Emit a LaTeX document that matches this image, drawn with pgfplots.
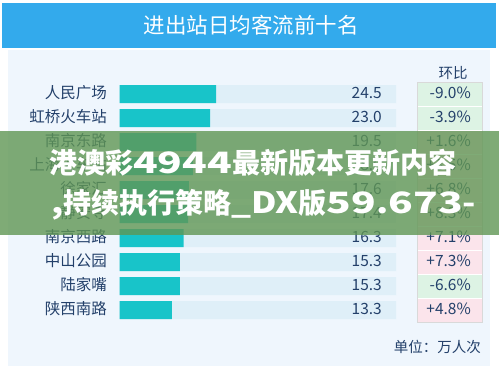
\documentclass[border=0pt]{standalone}
\usepackage{pgfplots}
\pgfplotsset{compat=1.18}
\usepackage{fontspec}
\setmainfont{Noto Sans CJK SC}
\usepackage{graphicx}
\definecolor{titleblue}{RGB}{51,170,236}
\definecolor{panel}{RGB}{239,246,253}
\definecolor{barteal}{RGB}{24,196,201}
\definecolor{bgbar}{RGB}{223,239,248}
\definecolor{navy}{RGB}{35,64,106}
\definecolor{negc}{RGB}{221,243,228}
\definecolor{posc}{RGB}{251,228,235}
\definecolor{overlayc}{RGB}{96,150,84}
\newcommand\D[1]{\scalebox{1.45}[1.05]{#1}}
\newcommand\E[1]{\scalebox{1.25}[1.05]{#1}}
\begin{document}
\begin{tikzpicture}[x=1bp,y=1bp,
  lab/.style={navy, font=\fontsize{15.5bp}{17bp}\selectfont, inner sep=0pt, anchor=east, text height=11.5bp, text depth=3bp}]
\fill[white] (0,0) rectangle (499,369);
\fill[titleblue] (2,321) rectangle (496,366);
\node[white, font=\fontsize{21.5bp}{24bp}\selectfont] at (251,344) {进出站日均客流前十名};
\fill[panel] (8,3) rectangle (490,319);
\node[navy, font=\fontsize{14.5bp}{16bp}\selectfont] at (453,296) {环比};
% change cells
\fill[negc] (417,287) rectangle (482,239);
\fill[posc] (417,239) rectangle (482,143);
\fill[posc] (417,143) rectangle (482,95);
\fill[negc] (417,95) rectangle (482,71);
\fill[posc] (417,71) rectangle (482,47);
\draw[white, line width=0.6bp] \foreach \yy in {263,239,215,191,167,143,119,95,71} {(417,\yy) -- (482,\yy)};
\draw[black!15, line width=0.6bp] (417,287) rectangle (482,47);
\begin{axis}[at={(119.5bp,47bp)}, anchor=south west, scale only axis,
  width=276.5bp, height=240bp, xmin=0, xmax=70.18, ymin=0.5, ymax=10.5,
  y dir=reverse, hide axis, clip=false]
\addplot[xbar, bar width=18bp, bar shift=0pt, fill=bgbar, draw=none]
  coordinates {(70.18,1) (70.18,2) (70.18,3) (70.18,4) (70.18,5) (70.18,6) (70.18,7) (70.18,8) (70.18,9) (70.18,10)};
\addplot[xbar, bar width=18bp, bar shift=0pt, fill=barteal, draw=none]
  coordinates {(24.5,1) (23.0,2) (19.5,3) (18.6,4) (17.6,5) (17.4,6) (16.3,7) (15.3,8) (15.3,9) (13.3,10)};
\end{axis}
% names
\node[lab] at (107,275) {人民广场};
\node[lab] at (107,251) {虹桥火车站};
\node[lab] at (107,227) {南京东路};
\node[lab] at (107,203) {上海火车站};
\node[lab] at (107,179) {徐家汇};
\node[lab] at (107,155) {静安寺};
\node[lab] at (107,131) {南京西路};
\node[lab] at (107,107) {中山公园};
\node[lab] at (107,83) {陆家嘴};
\node[lab] at (107,59) {陕西南路};
% values
\node[lab] at (382,275) {24.5};
\node[lab] at (382,251) {23.0};
\node[lab] at (382,227) {19.5};
\node[lab] at (382,203) {18.6};
\node[lab] at (382,179) {17.6};
\node[lab] at (382,155) {17.4};
\node[lab] at (382,131) {16.3};
\node[lab] at (382,107) {15.3};
\node[lab] at (382,83) {15.3};
\node[lab] at (382,59) {13.3};
% changes
\node[lab] at (471,275) {-9.0\%};
\node[lab] at (471,251) {-3.9\%};
\node[lab] at (471,227) {+1.6\%};
\node[lab] at (471,203) {+3.5\%};
\node[lab] at (471,179) {+6.8\%};
\node[lab] at (471,155) {+8.3\%};
\node[lab] at (471,131) {+7.1\%};
\node[lab] at (471,107) {+7.3\%};
\node[lab] at (471,83) {-6.6\%};
\node[lab] at (471,59) {+4.8\%};
\node[navy, font=\fontsize{14.5bp}{16bp}\selectfont, anchor=east, inner sep=0pt] at (481,22) {单位：万人次};
% overlay banner
\fill[overlayc, opacity=0.8] (0,134) rectangle (499,238);
\node[white, font=\fontsize{28bp}{30bp}\selectfont\bfseries, anchor=west, inner sep=0pt] at (49,206) {港澳彩\D{4944}最新版本更新内容};
\node[white, font=\fontsize{28bp}{30bp}\selectfont\bfseries, anchor=west, inner sep=0pt] at (51,164) {\E{,}持续执行策略\E{\_DX}版\D{59}\E{.}\D{673}\E{-}};
\end{tikzpicture}
\end{document}
